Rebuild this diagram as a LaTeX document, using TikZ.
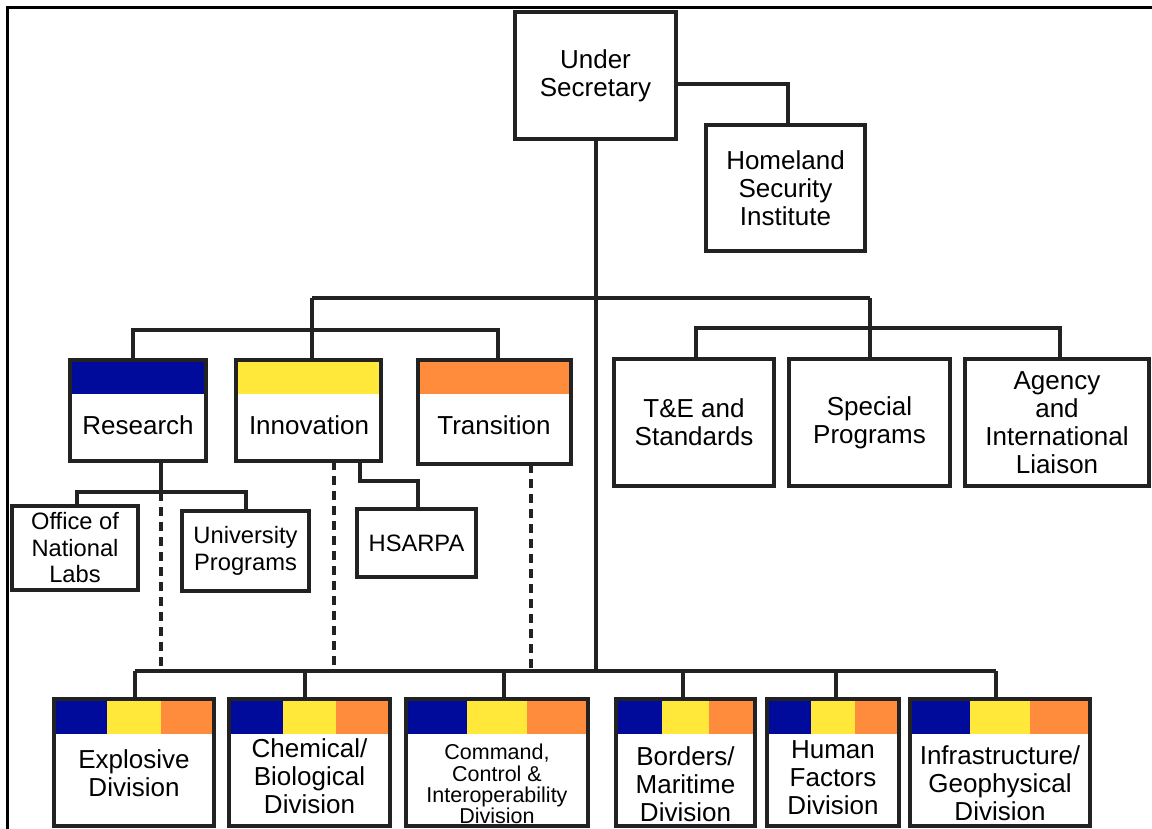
\documentclass[tikz,border=0pt]{standalone}
\usepackage{fontspec}
\setmainfont{Liberation Sans}
\usetikzlibrary{calc}
\definecolor{rblue}{RGB}{0,10,155}
\definecolor{iyellow}{RGB}{255,232,58}
\definecolor{torange}{RGB}{255,140,60}
\definecolor{edgec}{RGB}{34,34,34}
\tikzset{
  orgbox/.style={draw=edgec, line width=4.5pt, fill=white, inner sep=0pt, outer sep=0pt, align=center, font=\fontsize{26}{28}\selectfont},
  lbl/.style={inner sep=0pt, align=center, font=\fontsize{26}{28}\selectfont},
  smalllbl/.style={inner sep=0pt, align=center, font=\fontsize{23.7}{26.5}\selectfont},
  tinylbl/.style={inner sep=0pt, align=center, font=\fontsize{21.5}{21.3}\selectfont},
  conn/.style={draw=edgec, line width=4pt},
  dotconn/.style={draw=edgec, line width=4pt, dash pattern=on 9pt off 6pt},
}
\newcommand{\oneband}[2]{%
  \fill[#2] ($(#1.north west)+(2.25pt,-2.25pt)$) rectangle ($(#1.north east)+(-2.25pt,-33.5pt)$);}
\newcommand{\threeband}[1]{%
  \fill[rblue] ($(#1.north west)+(2.25pt,-2.25pt)$) rectangle ($(#1.north west)!0.3333!(#1.north east)+(0pt,-34.5pt)$);
  \fill[iyellow] ($(#1.north west)!0.3333!(#1.north east)+(0pt,-2.25pt)$) rectangle ($(#1.north west)!0.6667!(#1.north east)+(0pt,-34.5pt)$);
  \fill[torange] ($(#1.north west)!0.6667!(#1.north east)+(0pt,-2.25pt)$) rectangle ($(#1.north east)+(-2.25pt,-34.5pt)$);}
\begin{document}
\begin{tikzpicture}[x=1pt, y=-1pt]
\useasboundingbox (0,0) rectangle (1152,829);
\fill[white] (0,0) rectangle (1152,829);
% frame
\draw[line width=2.2pt, black] (7.5,829) -- (7.5,7.5) -- (1152,7.5);

% top level
\node[orgbox, minimum width=161pt, minimum height=127pt] (us) at (595.5,75.5) {Under\\Secretary};
\node[orgbox, minimum width=159pt, minimum height=126pt] (hsi) at (785.5,188) {Homeland\\Security\\Institute};

% second level
\node[orgbox, minimum width=136pt, minimum height=101pt] (res) at (138,410.5) {};
\node[orgbox, minimum width=145pt, minimum height=101pt] (inn) at (308.5,410.5) {};
\node[orgbox, minimum width=153pt, minimum height=104pt] (tra) at (494.5,412) {};
\oneband{res}{rblue}
\oneband{inn}{iyellow}
\oneband{tra}{torange}
\node[lbl] (rest) at (138,425) {Research};
\node[lbl] (innt) at (309,425) {Innovation};
\node[lbl] (trat) at (494,425) {Transition};

\node[orgbox, minimum width=160pt, minimum height=127pt] (te) at (694,422.5) {T\&E and\\Standards};
\node[orgbox, minimum width=161pt, minimum height=127pt] (spec) at (869.5,422.5) {Special\\Programs};
\node[orgbox, minimum width=184pt, minimum height=127pt] (ag) at (1057,422.5) {Agency\\and\\International\\Liaison};

% third level
\node[orgbox, minimum width=126pt, minimum height=84pt, font=\fontsize{23.7}{26.5}\selectfont] (onl) at (75,548) {Office of\\National\\Labs};
\node[orgbox, minimum width=127pt, minimum height=80pt, font=\fontsize{23.7}{26.5}\selectfont] (up) at (245.5,551) {University\\Programs};
\node[orgbox, minimum width=119pt, minimum height=68pt, font=\fontsize{23.7}{26.5}\selectfont] (hsarpa) at (416.5,543) {HSARPA};

% divisions
\node[orgbox, minimum width=160pt, minimum height=127pt] (exp) at (134,762.5) {};
\node[orgbox, minimum width=161pt, minimum height=127pt] (chem) at (309.5,762.5) {};
\node[orgbox, minimum width=182pt, minimum height=127pt] (cmd) at (497,762.5) {};
\node[orgbox, minimum width=139pt, minimum height=127pt] (bor) at (685.5,762.5) {};
\node[orgbox, minimum width=132pt, minimum height=127pt] (hum) at (833,762.5) {};
\node[orgbox, minimum width=180pt, minimum height=127pt] (inf) at (1000,762.5) {};
\threeband{exp}
\threeband{chem}
\threeband{cmd}
\threeband{bor}
\threeband{hum}
\threeband{inf}
\node[lbl] (expt) at (134,773) {Explosive\\Division};
\node[lbl] (chemt) at (309.5,776) {Chemical/\\Biological\\Division};
\node[tinylbl] (cmdt) at (497,784) {Command,\\Control \&\\Interoperability\\Division};
\node[lbl] (bort) at (685.5,784) {Borders/\\Maritime\\Division};
\node[lbl] (humt) at (833,778) {Human\\Factors\\Division};
\node[lbl] (inft) at (1000,783) {Infrastructure/\\Geophysical\\Division};

% helper levels
\coordinate (tb) at (0,298);
\coordinate (lg) at (0,330);
\coordinate (rg) at (0,328);
\coordinate (rb) at (0,492);
\coordinate (dotend) at (0,668);
\coordinate (bbus) at (0,671);

% connectors
\draw[conn] ([yshift=-8.5pt]us.east) -| ([xshift=2.5pt]hsi.north);
\draw[conn] (us.south) -- (us.south |- bbus);
\draw[conn] ([xshift=3.5pt]inn.north |- tb) -- ([xshift=0.5pt]spec.north |- tb);
\draw[conn] ([xshift=3.5pt]inn.north |- tb) -- ([xshift=3.5pt]inn.north);
\draw[conn] ([xshift=-5pt]res.north) |- ([xshift=3.5pt]tra.north |- lg) -- ([xshift=3.5pt]tra.north);
\draw[conn] ([xshift=0.5pt]spec.north |- tb) -- ([xshift=0.5pt]spec.north);
\draw[conn] ([xshift=2pt]te.north) |- ([xshift=3pt]ag.north |- rg) -- ([xshift=3pt]ag.north);
\draw[conn] ([xshift=23pt]res.south) -- ([xshift=23pt]res.south |- rb);
\draw[conn] ([xshift=2pt]onl.north) |- (up.north |- rb) -- (up.north);
\draw[conn] ([xshift=51.5pt]inn.south) -- ++(0pt,-20pt) -| ([xshift=1.5pt]hsarpa.north);
\draw[dotconn] ([xshift=23pt]res.south |- rb) -- ([xshift=23pt]res.south |- dotend);
\draw[dotconn] ([xshift=25.5pt]inn.south) -- ([xshift=25.5pt]inn.south |- dotend);
\draw[dotconn] ([xshift=36.5pt]tra.south) -- ([xshift=36.5pt]tra.south |- bbus);
\draw[conn] ([xshift=1pt]exp.north |- bbus) -- ([xshift=-4pt]inf.north |- bbus);
\foreach \n/\s in {exp/1, chem/-4.5, cmd/7, bor/-2.5, hum/3, inf/-4}
  \draw[conn] ([xshift=\s pt]\n.north |- bbus) -- ([xshift=\s pt]\n.north);
\end{tikzpicture}
\end{document}
